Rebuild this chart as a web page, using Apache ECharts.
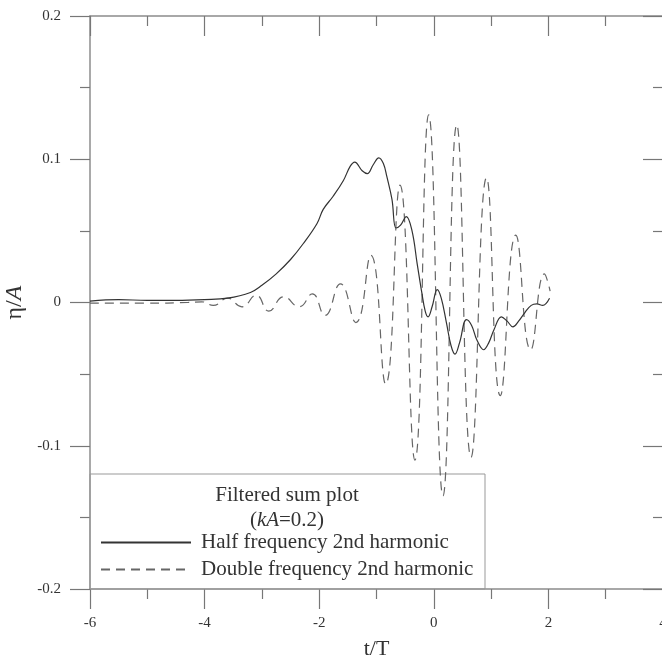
<!DOCTYPE html>
<html>
<head>
<meta charset="utf-8">
<script src="https://cdn.jsdelivr.net/npm/echarts@6/dist/echarts.min.js"></script>
<style>
html,body{margin:0;padding:0;background:#fff;}
#chart{width:662px;height:659px;}
</style>
</head>
<body>
<div id="chart"></div>
<script>
// t/T values and eta/A values
const halfT = [-6.0,-5.5,-5.0,-4.5,-4.0,-3.6,-3.2,-3.0,-2.75,-2.5,-2.28,-2.04,-1.93,-1.76,-1.58,-1.46,-1.38,-1.25,-1.16,-1.06,-0.96,-0.88,-0.82,-0.73,-0.66,-0.58,-0.48,-0.38,-0.29,-0.21,-0.15,-0.1,-0.03,0.06,0.13,0.22,0.3,0.37,0.45,0.57,0.66,0.75,0.87,0.96,1.05,1.18,1.28,1.38,1.48,1.59,1.7,1.8,1.9,2.02];
const halfV = [0.001,0.002,0.0015,0.0015,0.002,0.003,0.007,0.012,0.02,0.03,0.041,0.055,0.065,0.074,0.085,0.095,0.098,0.092,0.09,0.096,0.101,0.097,0.088,0.072,0.052,0.054,0.06,0.05,0.027,0.007,-0.006,-0.01,-0.003,0.009,0.003,-0.014,-0.03,-0.036,-0.028,-0.012,-0.016,-0.026,-0.033,-0.028,-0.019,-0.01,-0.013,-0.017,-0.013,-0.007,-0.002,-0.001,-0.002,0.003];
const doubleT = [-6.0,-5.0,-4.3,-4.05,-3.85,-3.6,-3.35,-3.1,-2.88,-2.62,-2.35,-2.12,-1.9,-1.63,-1.36,-1.1,-0.84,-0.59,-0.33,-0.09,0.16,0.4,0.65,0.92,1.16,1.43,1.69,1.93,2.03];
const doubleV = [-0.0005,-0.0005,0,0.0005,-0.002,0.003,-0.003,0.005,-0.006,0.004,-0.003,0.006,-0.009,0.013,-0.014,0.033,-0.057,0.082,-0.11,0.131,-0.135,0.124,-0.108,0.087,-0.065,0.047,-0.033,0.02,0.008];
const xTickLabels = ['-6','-4','-2','0','2','4'];
const yTickLabels = ['-0.2','-0.1','0','0.1','0.2'];
const seriesNames = ['Half frequency 2nd harmonic','Double frequency 2nd harmonic'];

const FONT = 'Liberation Serif';
const chart = echarts.init(document.getElementById('chart'), null, {renderer:'canvas'});
const axisLine = {show:true, onZero:false, lineStyle:{color:'#8c8c8c', width:1.5}};
const tickStyle = {color:'#777', width:1.2};

function xLabel(v){ const s = String(Math.round(v)); return xTickLabels.includes(s) ? s : ''; }
function yLabel(v){ const s = String(Math.round(v*10)/10); return yTickLabels.includes(s) ? s : ''; }

const option = {
  animation:false,
  grid:{left:90, top:16, width:573, height:573, outerBoundsMode:'none', containLabel:false},
  xAxis:[
    {type:'value', min:-6, max:4, interval:2, position:'bottom',
     axisLine, axisTick:{show:true, inside:false, length:20, lineStyle:tickStyle},
     minorTick:{show:true, splitNumber:2, length:10, lineStyle:tickStyle},
     splitLine:{show:false},
     axisLabel:{margin:27, fontFamily:FONT, fontSize:15, color:'#333', formatter:xLabel},
     name:'t/T', nameLocation:'middle', nameGap:49,
     nameTextStyle:{fontFamily:FONT, fontSize:22, color:'#333'}},
    {type:'value', min:-6, max:4, interval:2, position:'top',
     axisLine, axisTick:{show:true, inside:true, length:20, lineStyle:tickStyle},
     minorTick:{show:true, splitNumber:2, length:10, lineStyle:tickStyle},
     splitLine:{show:false}, axisLabel:{show:false}}
  ],
  yAxis:[
    {type:'value', min:-0.2, max:0.2, interval:0.1, position:'left',
     axisLine, axisTick:{show:true, inside:false, length:20, lineStyle:tickStyle},
     minorTick:{show:true, splitNumber:2, length:10, lineStyle:tickStyle},
     splitLine:{show:false},
     axisLabel:{margin:29, fontFamily:FONT, fontSize:15, color:'#333', formatter:yLabel},
     name:'{a|η/}{b|A}', nameLocation:'middle', nameGap:58,
     nameTextStyle:{fontFamily:FONT, fontSize:24, color:'#333',
       rich:{a:{fontFamily:FONT, fontSize:24, color:'#333'}, b:{fontFamily:FONT, fontSize:24, fontStyle:'italic', color:'#333'}}}},
    {type:'value', min:-0.2, max:0.2, interval:0.1, position:'right',
     axisLine, axisTick:{show:true, inside:true, length:20, lineStyle:tickStyle},
     minorTick:{show:true, splitNumber:2, length:10, lineStyle:tickStyle},
     splitLine:{show:false}, axisLabel:{show:false}}
  ],
  legend:{
    show:true, orient:'vertical', left:100, top:532, padding:0, itemWidth:90, itemHeight:14, itemGap:6,
    selectedMode:false,
    itemStyle:{opacity:0},
    textStyle:{fontFamily:FONT, fontSize:21, color:'#333', padding:[0,0,0,5]},
    data:[seriesNames[0], seriesNames[1]]
  },
  graphic:[
    {type:'rect', shape:{x:90, y:474, width:395, height:115}, style:{fill:'none', stroke:'#999', lineWidth:1}, z:5},
    {type:'text', x:287, y:495, style:{text:'Filtered sum plot', font:'21px "Liberation Serif"', fill:'#333', textAlign:'center', textVerticalAlign:'middle'}, z:6},
    {type:'text', x:287, y:520, style:{text:'({i|kA}=0.2)', font:'21px "Liberation Serif"', fill:'#333', textAlign:'center', textVerticalAlign:'middle',
      rich:{i:{fontFamily:FONT, fontSize:21, fontStyle:'italic', fill:'#333', color:'#333'}}}, z:6}
  ],
  series:[
    {name:seriesNames[0], type:'line', xAxisIndex:0, yAxisIndex:0, showSymbol:false, symbol:'none', smooth:0.4,
     itemStyle:{color:'#333'},
     lineStyle:{color:'#333', width:1.2, type:'solid'},
     data:halfT.map((t,i)=>[t, halfV[i]]), z:10},
    {name:seriesNames[1], type:'line', xAxisIndex:0, yAxisIndex:0, showSymbol:false, symbol:'none', smooth:0.5,
     itemStyle:{color:'#666'},
     lineStyle:{color:'#666', width:1.2, type:[9,6]},
     data:doubleT.map((t,i)=>[t, doubleV[i]]), z:9}
  ]
};
chart.setOption(option);
</script>
</body>
</html>
